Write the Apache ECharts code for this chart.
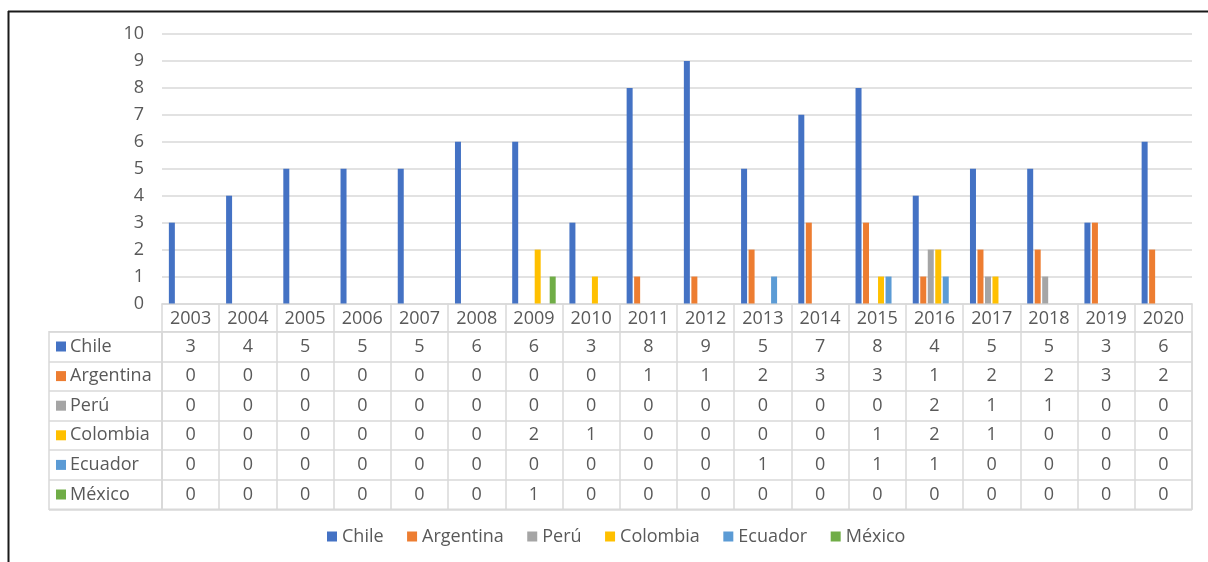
<!DOCTYPE html>
<html>
<head>
<meta charset="utf-8">
<script src="https://cdn.jsdelivr.net/npm/echarts@6/dist/echarts.min.js"></script>
<style>
  html, body { margin: 0; padding: 0; background: #ffffff; }
  #chart { width: 1208px; height: 562px; }
</style>
</head>
<body>
<div id="chart"></div>
<script>
// Years on the category axis (also the header row of the data table)
const years = ['2003', '2004', '2005', '2006', '2007', '2008', '2009', '2010', '2011',
               '2012', '2013', '2014', '2015', '2016', '2017', '2018', '2019', '2020'];

// Country names, in series order
const countries = ['Chile', 'Argentina', 'Perú', 'Colombia', 'Ecuador', 'México'];

// Counts per year for each country
const chile     = [3, 4, 5, 5, 5, 6, 6, 3, 8, 9, 5, 7, 8, 4, 5, 5, 3, 6];
const argentina = [0, 0, 0, 0, 0, 0, 0, 0, 1, 1, 2, 3, 3, 1, 2, 2, 3, 2];
const peru      = [0, 0, 0, 0, 0, 0, 0, 0, 0, 0, 0, 0, 0, 2, 1, 1, 0, 0];
const colombia  = [0, 0, 0, 0, 0, 0, 2, 1, 0, 0, 0, 0, 1, 2, 1, 0, 0, 0];
const ecuador   = [0, 0, 0, 0, 0, 0, 0, 0, 0, 0, 1, 0, 1, 1, 0, 0, 0, 0];
const mexico    = [0, 0, 0, 0, 0, 0, 1, 0, 0, 0, 0, 0, 0, 0, 0, 0, 0, 0];

// Value axis range
const yMin = 0, yMax = 10, yStep = 1;

const seriesValues = [chile, argentina, peru, colombia, ecuador, mexico];
const palette = ['#4472C4', '#ED7D31', '#A5A5A5', '#FFC000', '#5B9BD5', '#70AD47'];

const FONT = '"Open Sans", sans-serif';
const FS = 18;
const TXT = '#595959';
const LINE = '#d9d9d9';

// Layout of the plot and the table beneath it
const plotLeft = 162, plotRight = 16, plotTop = 34, plotBottomY = 303.5;
const tableTop = 331.7, tableBottom = 509.3;
const labelColLeft = 49;

const chart = echarts.init(document.getElementById('chart'), null, { renderer: 'canvas' });

// Table cells: [columnIndex, rowIndex, value]
const cellData = [];
seriesValues.forEach((vals, r) => {
  vals.forEach((v, c) => cellData.push([c, r, v]));
});

// Rich-text colour squares for the row headers
const rich = {};
palette.forEach((col, i) => {
  rich['s' + i] = { width: 10, height: 10, backgroundColor: col };
  rich['t' + i] = { fontFamily: FONT, fontSize: FS, color: TXT, padding: [0, 0, 0, 4] };
});

const barSeries = countries.map((name, i) => ({
  name: name,
  type: 'bar',
  xAxisIndex: 0,
  yAxisIndex: 0,
  data: seriesValues[i],
  barWidth: 6,
  barGap: '25%',
  itemStyle: { color: palette[i] },
  emphasis: { disabled: true }
}));

const option = {
  backgroundColor: '#ffffff',
  animation: false,
  textStyle: { fontFamily: FONT },
  legend: {
    data: countries,
    left: 327,
    top: 527.5,
    padding: 0,
    icon: 'rect',
    itemWidth: 10,
    itemHeight: 10,
    itemGap: 23.5,
    textStyle: { fontFamily: FONT, fontSize: FS, color: TXT },
    selectedMode: false
  },
  grid: [
    // bar plot
    { left: plotLeft, right: plotRight, top: plotTop, height: plotBottomY - plotTop, containLabel: false },
    // table values
    { left: plotLeft, right: plotRight, top: tableTop, height: tableBottom - tableTop,
      show: true, borderColor: LINE, borderWidth: 1.5, backgroundColor: 'transparent' },
    // table row headers
    { left: labelColLeft, width: plotLeft - labelColLeft, top: tableTop, height: tableBottom - tableTop,
      show: true, borderColor: LINE, borderWidth: 1.5, backgroundColor: 'transparent' }
  ],
  xAxis: [
    {
      gridIndex: 0,
      type: 'category',
      data: years,
      boundaryGap: true,
      axisLine: { show: true, lineStyle: { color: LINE, width: 1.5 } },
      axisTick: { show: true, interval: 0, length: tableTop - plotBottomY, lineStyle: { color: LINE, width: 1.5 } },
      axisLabel: { interval: 0, margin: 6.5, fontFamily: FONT, fontSize: FS, color: TXT },
      splitLine: { show: false }
    },
    {
      gridIndex: 1,
      type: 'category',
      data: years,
      boundaryGap: true,
      axisLine: { show: false },
      axisTick: { show: false },
      axisLabel: { show: false },
      splitLine: { show: true, interval: 0, lineStyle: { color: LINE, width: 1.5 } }
    },
    {
      gridIndex: 2,
      type: 'value',
      min: 0, max: 1,
      show: false
    }
  ],
  yAxis: [
    {
      gridIndex: 0,
      type: 'value',
      min: yMin, max: yMax, interval: yStep,
      axisLine: { show: false },
      axisTick: { show: false },
      axisLabel: { margin: 18, fontFamily: FONT, fontSize: FS, color: TXT },
      splitLine: { show: true, lineStyle: { color: LINE, width: 1.5 } }
    },
    {
      gridIndex: 1,
      type: 'category',
      data: countries,
      inverse: true,
      axisLine: { show: false },
      axisTick: { show: false },
      axisLabel: { show: false },
      splitLine: { show: true, interval: 0, lineStyle: { color: LINE, width: 1.5 } }
    },
    {
      gridIndex: 2,
      type: 'category',
      data: countries,
      inverse: true,
      axisLine: { show: false },
      axisTick: { show: false },
      axisLabel: {
        inside: true,
        margin: 7,
        align: 'left',
        interval: 0,
        formatter: (value, index) => '{s' + index + '|}{t' + index + '|' + value + '}',
        rich: rich
      },
      splitLine: { show: true, interval: 0, lineStyle: { color: LINE, width: 1.5 } }
    }
  ],
  graphic: [
    // frame lines along the left and top edges
    { type: 'line', shape: { x1: 8, y1: 11.5, x2: 1208, y2: 11.5 }, style: { stroke: '#1a1a1a', lineWidth: 2 }, silent: true },
    { type: 'line', shape: { x1: 8.5, y1: 11, x2: 8.5, y2: 562 }, style: { stroke: '#1a1a1a', lineWidth: 2 }, silent: true }
  ],
  series: barSeries.concat([
    {
      type: 'custom',
      name: 'tabla',
      xAxisIndex: 1,
      yAxisIndex: 1,
      data: cellData,
      silent: true,
      renderItem: function (params, api) {
        const p = api.coord([api.value(0), api.value(1)]);
        return {
          type: 'text',
          x: p[0],
          y: p[1],
          style: {
            text: String(api.value(2)),
            align: 'center',
            verticalAlign: 'middle',
            fontFamily: FONT,
            fontSize: FS,
            fill: TXT
          }
        };
      }
    }
  ])
};

chart.setOption(option);
</script>
</body>
</html>
